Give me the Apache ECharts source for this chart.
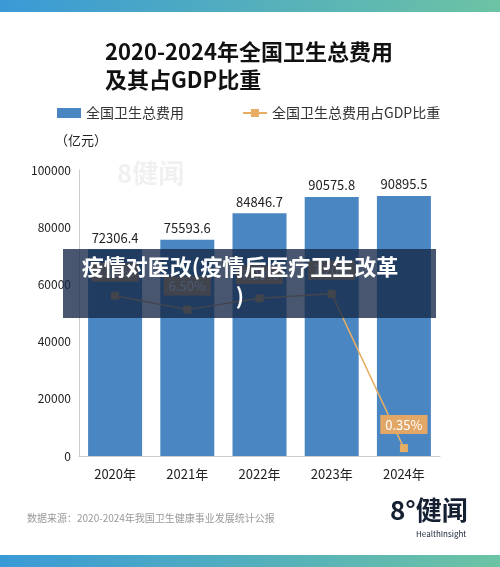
<!DOCTYPE html><html><head><meta charset="utf-8"><script src="https://cdn.jsdelivr.net/npm/echarts@6/dist/echarts.min.js"></script>
<style>html,body{margin:0;padding:0;background:#fff}#c{width:500px;height:567px}</style></head><body><div id="c"></div><script>
const categories=['2020年','2021年','2022年','2023年','2024年'];
const spending=[72306.4,75593.6,84846.7,90575.8,90895.5];
const gdpShare=[7.12,6.50,7.00,7.20,0.35];
const shareLabels=['7.12%','6.50%','7.00%','7.20%','0.35%'];
const yTicks=[0,20000,40000,60000,80000,100000];
const F='"Noto Sans CJK SC","Noto Sans",sans-serif';
const grad=new echarts.graphic.LinearGradient(0,0,1,0,[{offset:0,color:'#3a9ad6'},{offset:1,color:'#6cc3a4'}]);
const chart=echarts.init(document.getElementById('c'));
chart.setOption({
animation:false,
grid:{left:79,right:60,top:170,bottom:111},
title:{text:'2020-2024年全国卫生总费用\n及其占GDP比重',left:100,top:33,textStyle:{fontFamily:F,fontSize:22,fontWeight:'bold',color:'#111',lineHeight:28}},
legend:{top:101,left:52,itemGap:58,itemWidth:24,itemHeight:10,textStyle:{fontFamily:F,fontSize:14,color:'#333'},data:[{name:'全国卫生总费用',icon:'rect'},{name:'全国卫生总费用占GDP比重'}]},
xAxis:{type:'category',data:categories,axisTick:{show:false},axisLine:{lineStyle:{color:'#ccc'}},axisLabel:{fontFamily:F,fontSize:13,color:'#222',margin:12}},
yAxis:[{type:'value',min:0,max:100000,interval:20000,axisLine:{show:true,lineStyle:{color:'#ccc'}},splitLine:{show:false},axisLabel:{fontFamily:F,fontSize:12,color:'#222',formatter:v=>yTicks.includes(v)?String(v):''}},
{type:'value',min:0,max:12.7,show:false}],
series:[{name:'全国卫生总费用',type:'bar',data:spending,barWidth:54,itemStyle:{color:'#4a86c1'},label:{show:true,position:'top',fontFamily:F,fontSize:13,color:'#222',formatter:p=>p.value.toFixed(1)}},
{name:'全国卫生总费用占GDP比重',type:'line',yAxisIndex:1,data:gdpShare,symbol:'rect',symbolSize:8,itemStyle:{color:'#e7ad62'},lineStyle:{color:'#e7ad62',width:1.5},
label:{show:true,position:'top',distance:10,formatter:p=>shareLabels[p.dataIndex],fontFamily:F,fontSize:13,color:'#fff',backgroundColor:'#e2a766',padding:[3,5]}}],
graphic:[
{type:'rect',shape:{x:0,y:0,width:500,height:12},style:{fill:grad}},
{type:'rect',shape:{x:0,y:555,width:500,height:12},style:{fill:grad}},
{type:'text',left:55,top:134,style:{text:'（亿元）',font:'13px '+F,fill:'#222'}},
{type:'text',left:117,top:160,style:{text:'8健闻',font:'bold 26px '+F,fill:'rgba(0,0,0,0.06)'}},
{type:'text',left:27,top:513,style:{text:'数据来源：2020-2024年我国卫生健康事业发展统计公报',font:'10px '+F,fill:'#999'}},
{type:'text',left:390,top:497,style:{text:'8°健闻',font:'bold 26px '+F,fill:'#152033'}},
{type:'text',left:416,top:530,style:{text:'HealthInsight',font:'8px '+F,fill:'#152033'}},
{type:'rect',shape:{x:63,y:249,width:373,height:69},style:{fill:'rgba(20,40,70,0.78)'},z:100},
{type:'text',x:240,y:252,z:101,style:{text:'疫情对医改(疫情后医疗卫生改革\n)',font:'bold 22px '+F,fill:'#fff',lineHeight:29,align:'center'}}
]});
</script></body></html>
